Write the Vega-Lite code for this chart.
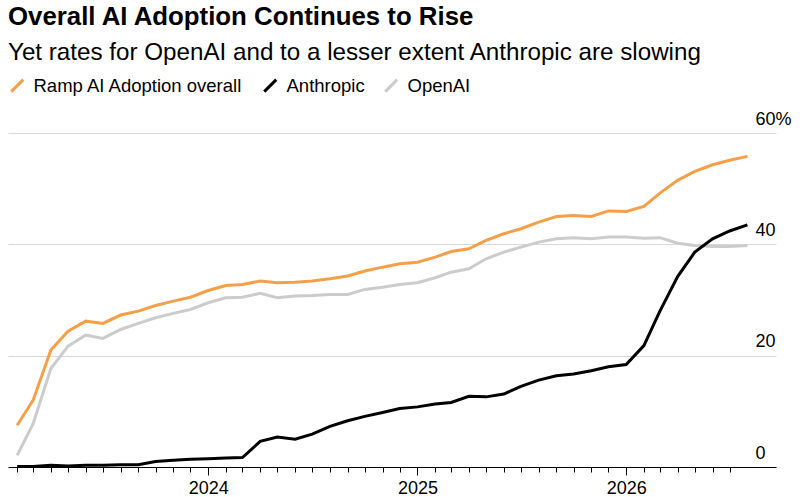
{
  "$schema": "https://vega.github.io/schema/vega-lite/v6.json",
  "autosize": "none",
  "width": 768,
  "height": 334,
  "padding": {"left": 8, "top": 133, "right": 24, "bottom": 30},
  "background": "#ffffff",
  "title": {
    "text": "Overall AI Adoption Continues to Rise",
    "subtitle": "Yet rates for OpenAI and to a lesser extent Anthropic are slowing",
    "anchor": "start",
    "frame": "group",
    "font": "Liberation Sans",
    "fontSize": 25.8,
    "fontWeight": "bold",
    "color": "#000000",
    "subtitleFont": "Liberation Sans",
    "subtitleFontSize": 24.2,
    "subtitleColor": "#000000",
    "subtitlePadding": 10,
    "offset": 10
  },
  "data": {
    "values": [
      {"date": "2023-02-01", "series": "OpenAI", "value": 2.1},
      {"date": "2023-03-01", "series": "OpenAI", "value": 7.8},
      {"date": "2023-04-01", "series": "OpenAI", "value": 17.7},
      {"date": "2023-05-01", "series": "OpenAI", "value": 21.7},
      {"date": "2023-06-01", "series": "OpenAI", "value": 23.7},
      {"date": "2023-07-01", "series": "OpenAI", "value": 23.1},
      {"date": "2023-08-01", "series": "OpenAI", "value": 24.7},
      {"date": "2023-09-01", "series": "OpenAI", "value": 25.8},
      {"date": "2023-10-01", "series": "OpenAI", "value": 26.8},
      {"date": "2023-11-01", "series": "OpenAI", "value": 27.6},
      {"date": "2023-12-01", "series": "OpenAI", "value": 28.3},
      {"date": "2024-01-01", "series": "OpenAI", "value": 29.5},
      {"date": "2024-02-01", "series": "OpenAI", "value": 30.4},
      {"date": "2024-03-01", "series": "OpenAI", "value": 30.5},
      {"date": "2024-04-01", "series": "OpenAI", "value": 31.2},
      {"date": "2024-05-01", "series": "OpenAI", "value": 30.4},
      {"date": "2024-06-01", "series": "OpenAI", "value": 30.7},
      {"date": "2024-07-01", "series": "OpenAI", "value": 30.8},
      {"date": "2024-08-01", "series": "OpenAI", "value": 31.0},
      {"date": "2024-09-01", "series": "OpenAI", "value": 31.0},
      {"date": "2024-10-01", "series": "OpenAI", "value": 31.9},
      {"date": "2024-11-01", "series": "OpenAI", "value": 32.3},
      {"date": "2024-12-01", "series": "OpenAI", "value": 32.8},
      {"date": "2025-01-01", "series": "OpenAI", "value": 33.1},
      {"date": "2025-02-01", "series": "OpenAI", "value": 34.0},
      {"date": "2025-03-01", "series": "OpenAI", "value": 35.0},
      {"date": "2025-04-01", "series": "OpenAI", "value": 35.6},
      {"date": "2025-05-01", "series": "OpenAI", "value": 37.4},
      {"date": "2025-06-01", "series": "OpenAI", "value": 38.6},
      {"date": "2025-07-01", "series": "OpenAI", "value": 39.5},
      {"date": "2025-08-01", "series": "OpenAI", "value": 40.4},
      {"date": "2025-09-01", "series": "OpenAI", "value": 41.0},
      {"date": "2025-10-01", "series": "OpenAI", "value": 41.2},
      {"date": "2025-11-01", "series": "OpenAI", "value": 41.0},
      {"date": "2025-12-01", "series": "OpenAI", "value": 41.3},
      {"date": "2026-01-01", "series": "OpenAI", "value": 41.3},
      {"date": "2026-02-01", "series": "OpenAI", "value": 41.1},
      {"date": "2026-03-01", "series": "OpenAI", "value": 41.2},
      {"date": "2026-04-01", "series": "OpenAI", "value": 40.2},
      {"date": "2026-05-01", "series": "OpenAI", "value": 39.8},
      {"date": "2026-06-01", "series": "OpenAI", "value": 39.6},
      {"date": "2026-07-01", "series": "OpenAI", "value": 39.6},
      {"date": "2026-08-01", "series": "OpenAI", "value": 39.8},
      {"date": "2023-02-01", "series": "Ramp AI Adoption overall", "value": 7.5},
      {"date": "2023-03-01", "series": "Ramp AI Adoption overall", "value": 12.0},
      {"date": "2023-04-01", "series": "Ramp AI Adoption overall", "value": 21.0},
      {"date": "2023-05-01", "series": "Ramp AI Adoption overall", "value": 24.4},
      {"date": "2023-06-01", "series": "Ramp AI Adoption overall", "value": 26.2},
      {"date": "2023-07-01", "series": "Ramp AI Adoption overall", "value": 25.8},
      {"date": "2023-08-01", "series": "Ramp AI Adoption overall", "value": 27.3},
      {"date": "2023-09-01", "series": "Ramp AI Adoption overall", "value": 28.0},
      {"date": "2023-10-01", "series": "Ramp AI Adoption overall", "value": 29.0},
      {"date": "2023-11-01", "series": "Ramp AI Adoption overall", "value": 29.8},
      {"date": "2023-12-01", "series": "Ramp AI Adoption overall", "value": 30.5},
      {"date": "2024-01-01", "series": "Ramp AI Adoption overall", "value": 31.7},
      {"date": "2024-02-01", "series": "Ramp AI Adoption overall", "value": 32.6},
      {"date": "2024-03-01", "series": "Ramp AI Adoption overall", "value": 32.8},
      {"date": "2024-04-01", "series": "Ramp AI Adoption overall", "value": 33.4},
      {"date": "2024-05-01", "series": "Ramp AI Adoption overall", "value": 33.1},
      {"date": "2024-06-01", "series": "Ramp AI Adoption overall", "value": 33.2},
      {"date": "2024-07-01", "series": "Ramp AI Adoption overall", "value": 33.4},
      {"date": "2024-08-01", "series": "Ramp AI Adoption overall", "value": 33.8},
      {"date": "2024-09-01", "series": "Ramp AI Adoption overall", "value": 34.3},
      {"date": "2024-10-01", "series": "Ramp AI Adoption overall", "value": 35.2},
      {"date": "2024-11-01", "series": "Ramp AI Adoption overall", "value": 35.9},
      {"date": "2024-12-01", "series": "Ramp AI Adoption overall", "value": 36.5},
      {"date": "2025-01-01", "series": "Ramp AI Adoption overall", "value": 36.8},
      {"date": "2025-02-01", "series": "Ramp AI Adoption overall", "value": 37.7},
      {"date": "2025-03-01", "series": "Ramp AI Adoption overall", "value": 38.7},
      {"date": "2025-04-01", "series": "Ramp AI Adoption overall", "value": 39.2},
      {"date": "2025-05-01", "series": "Ramp AI Adoption overall", "value": 40.7},
      {"date": "2025-06-01", "series": "Ramp AI Adoption overall", "value": 41.9},
      {"date": "2025-07-01", "series": "Ramp AI Adoption overall", "value": 42.8},
      {"date": "2025-08-01", "series": "Ramp AI Adoption overall", "value": 44.0},
      {"date": "2025-09-01", "series": "Ramp AI Adoption overall", "value": 45.0},
      {"date": "2025-10-01", "series": "Ramp AI Adoption overall", "value": 45.2},
      {"date": "2025-11-01", "series": "Ramp AI Adoption overall", "value": 45.0},
      {"date": "2025-12-01", "series": "Ramp AI Adoption overall", "value": 46.0},
      {"date": "2026-01-01", "series": "Ramp AI Adoption overall", "value": 45.9},
      {"date": "2026-02-01", "series": "Ramp AI Adoption overall", "value": 46.8},
      {"date": "2026-03-01", "series": "Ramp AI Adoption overall", "value": 49.2},
      {"date": "2026-04-01", "series": "Ramp AI Adoption overall", "value": 51.5},
      {"date": "2026-05-01", "series": "Ramp AI Adoption overall", "value": 53.1},
      {"date": "2026-06-01", "series": "Ramp AI Adoption overall", "value": 54.3},
      {"date": "2026-07-01", "series": "Ramp AI Adoption overall", "value": 55.1},
      {"date": "2026-08-01", "series": "Ramp AI Adoption overall", "value": 55.8},
      {"date": "2023-02-01", "series": "Anthropic", "value": 0.1},
      {"date": "2023-03-01", "series": "Anthropic", "value": 0.1},
      {"date": "2023-04-01", "series": "Anthropic", "value": 0.3},
      {"date": "2023-05-01", "series": "Anthropic", "value": 0.2},
      {"date": "2023-06-01", "series": "Anthropic", "value": 0.3},
      {"date": "2023-07-01", "series": "Anthropic", "value": 0.3},
      {"date": "2023-08-01", "series": "Anthropic", "value": 0.4},
      {"date": "2023-09-01", "series": "Anthropic", "value": 0.4},
      {"date": "2023-10-01", "series": "Anthropic", "value": 1.0},
      {"date": "2023-11-01", "series": "Anthropic", "value": 1.2},
      {"date": "2023-12-01", "series": "Anthropic", "value": 1.4},
      {"date": "2024-01-01", "series": "Anthropic", "value": 1.5},
      {"date": "2024-02-01", "series": "Anthropic", "value": 1.6},
      {"date": "2024-03-01", "series": "Anthropic", "value": 1.7},
      {"date": "2024-04-01", "series": "Anthropic", "value": 4.6},
      {"date": "2024-05-01", "series": "Anthropic", "value": 5.4},
      {"date": "2024-06-01", "series": "Anthropic", "value": 5.0},
      {"date": "2024-07-01", "series": "Anthropic", "value": 5.9},
      {"date": "2024-08-01", "series": "Anthropic", "value": 7.3},
      {"date": "2024-09-01", "series": "Anthropic", "value": 8.3},
      {"date": "2024-10-01", "series": "Anthropic", "value": 9.1},
      {"date": "2024-11-01", "series": "Anthropic", "value": 9.8},
      {"date": "2024-12-01", "series": "Anthropic", "value": 10.5},
      {"date": "2025-01-01", "series": "Anthropic", "value": 10.8},
      {"date": "2025-02-01", "series": "Anthropic", "value": 11.3},
      {"date": "2025-03-01", "series": "Anthropic", "value": 11.6},
      {"date": "2025-04-01", "series": "Anthropic", "value": 12.7},
      {"date": "2025-05-01", "series": "Anthropic", "value": 12.6},
      {"date": "2025-06-01", "series": "Anthropic", "value": 13.1},
      {"date": "2025-07-01", "series": "Anthropic", "value": 14.5},
      {"date": "2025-08-01", "series": "Anthropic", "value": 15.6},
      {"date": "2025-09-01", "series": "Anthropic", "value": 16.4},
      {"date": "2025-10-01", "series": "Anthropic", "value": 16.7},
      {"date": "2025-11-01", "series": "Anthropic", "value": 17.3},
      {"date": "2025-12-01", "series": "Anthropic", "value": 18.0},
      {"date": "2026-01-01", "series": "Anthropic", "value": 18.4},
      {"date": "2026-02-01", "series": "Anthropic", "value": 21.8},
      {"date": "2026-03-01", "series": "Anthropic", "value": 28.0},
      {"date": "2026-04-01", "series": "Anthropic", "value": 34.2},
      {"date": "2026-05-01", "series": "Anthropic", "value": 38.6},
      {"date": "2026-06-01", "series": "Anthropic", "value": 41.0},
      {"date": "2026-07-01", "series": "Anthropic", "value": 42.4},
      {"date": "2026-08-01", "series": "Anthropic", "value": 43.5}
    ]
  },
  "mark": {"type": "line", "strokeWidth": 3, "strokeJoin": "miter"},
  "encoding": {
    "x": {
      "field": "date",
      "type": "temporal",
      "title": null,
      "scale": {
        "type": "utc",
        "domain": [
          {"year": 2023, "month": 1, "date": 16, "utc": true},
          {"year": 2026, "month": 9, "date": 20, "utc": true}
        ]
      },
      "axis": {
        "tickCount": {"interval": "month", "step": 1},
        "labelExpr": "utcmonth(datum.value) == 0 ? utcFormat(datum.value, '%Y') : ''",
        "labelOverlap": false,
        "labelFlush": false,
        "labelFont": "Liberation Sans",
        "labelFontSize": 18,
        "labelColor": "#000000",
        "labelPadding": 4,
        "grid": false,
        "domainColor": "#000000",
        "domainWidth": 1,
        "tickColor": "#000000",
        "tickWidth": 1,
        "tickSize": {"condition": {"test": "utcmonth(datum.value) == 0", "value": 8}, "value": 5},
        "tickOpacity": {"condition": {"test": "datum.value > utc(2026, 6, 15)", "value": 0}, "value": 1}
      }
    },
    "y": {
      "field": "value",
      "type": "quantitative",
      "title": null,
      "scale": {"domain": [0, 60]},
      "axis": {
        "orient": "right",
        "values": [0, 20, 40, 60],
        "labelExpr": "datum.value == 60 ? '60%' : datum.label",
        "labelFont": "Liberation Sans",
        "labelFontSize": 18,
        "labelColor": "#000000",
        "labelAlign": "left",
        "labelBaseline": "alphabetic",
        "labelOffset": -9,
        "labelPadding": -21,
        "ticks": false,
        "domain": false,
        "grid": true,
        "gridColor": "#d9d9d9",
        "gridWidth": 1.2
      }
    },
    "color": {
      "field": "series",
      "type": "nominal",
      "scale": {
        "domain": ["Ramp AI Adoption overall", "Anthropic", "OpenAI"],
        "range": ["#f5a049", "#000000", "#cccccc"]
      },
      "legend": {
        "title": null,
        "orient": "top",
        "direction": "horizontal",
        "padding": 0,
        "symbolType": "M-1,1L1,-1",
        "symbolSize": 144,
        "symbolStrokeWidth": 3,
        "labelFont": "Liberation Sans",
        "labelFontSize": 18.5,
        "labelColor": "#000000",
        "labelLimit": 0,
        "labelOffset": 7,
        "columnPadding": 14,
        "offset": 35
      }
    }
  },
  "config": {
    "view": {"stroke": null}
  }
}
